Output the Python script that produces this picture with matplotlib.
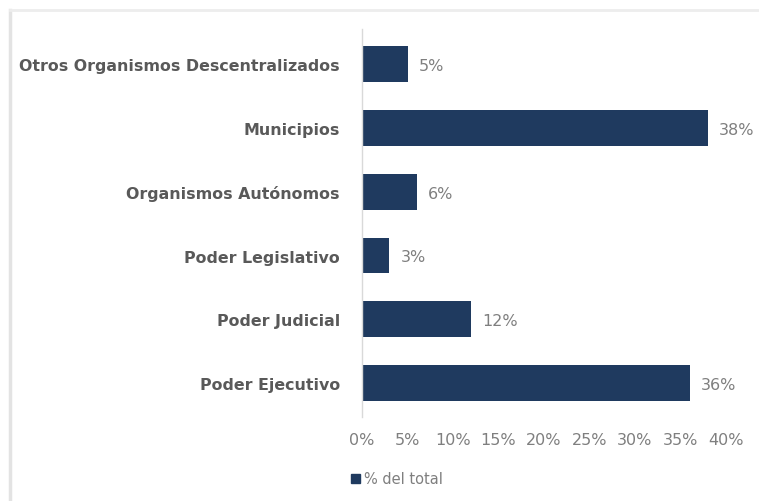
import matplotlib
matplotlib.use("Agg")
import matplotlib.pyplot as plt
from matplotlib.patches import Rectangle
from matplotlib.lines import Line2D
from matplotlib.ticker import FuncFormatter

categories = ["Poder Ejecutivo", "Poder Judicial", "Poder Legislativo",
              "Organismos Autónomos", "Municipios", "Otros Organismos Descentralizados"]
values = [36, 12, 3, 6, 38, 5]
tick_values = [0, 5, 10, 15, 20, 25, 30, 35, 40]
series_name = "% del total"

bar_color = "#1F3A5F"
label_color = "#595959"
tick_color = "#7F7F7F"

W, H = 759, 502
fig = plt.figure(figsize=(W / 100, H / 100), dpi=100)
fig.patch.set_facecolor("white")

# light frame lines (left and top)
fig.add_artist(Line2D([10 / W, 10 / W], [0, 1 - 11 / H], transform=fig.transFigure,
                      color="#E3E3E3", lw=2.5))
fig.add_artist(Line2D([10 / W, 1], [1 - 11 / H, 1 - 11 / H], transform=fig.transFigure,
                      color="#EDEDED", lw=2))

ax = fig.add_axes([362 / W, 1 - 418 / H, (726 - 362) / W, (418 - 30) / H])
y = list(range(len(categories)))
ax.barh(y, values, height=0.56, color=bar_color)
ax.set_xlim(0, 40)
ax.set_ylim(-0.53, 5.55)
ax.set_yticks(y)
ax.set_yticklabels(categories, fontsize=11.4, fontweight="bold", color=label_color)
ax.set_xticks(tick_values)
ax.xaxis.set_major_formatter(FuncFormatter(lambda v, p: f"{int(v)}%"))
ax.tick_params(axis="x", length=0, labelsize=11.5, labelcolor=tick_color, pad=11)
ax.tick_params(axis="y", length=0, pad=16)
for s in ["top", "right", "bottom"]:
    ax.spines[s].set_visible(False)
ax.spines["left"].set_color("#D9D9D9")
ax.spines["left"].set_linewidth(1)

for yi, v in zip(y, values):
    ax.annotate(f"{v}%", (v, yi), xytext=(8, -1), textcoords="offset points",
                va="center", ha="left", fontsize=11.5, color=tick_color,
                annotation_clip=False)

handle = Rectangle((0, 0), 1, 1, color=bar_color)
fig.legend([handle], [series_name], loc="center left",
           bbox_to_anchor=(338 / W, 1 - 480 / H), frameon=False,
           fontsize=10.5, handlelength=0.6, handleheight=0.6, handletextpad=0.3,
           labelcolor=tick_color)

fig.savefig("out.png", dpi=100, facecolor="white")
